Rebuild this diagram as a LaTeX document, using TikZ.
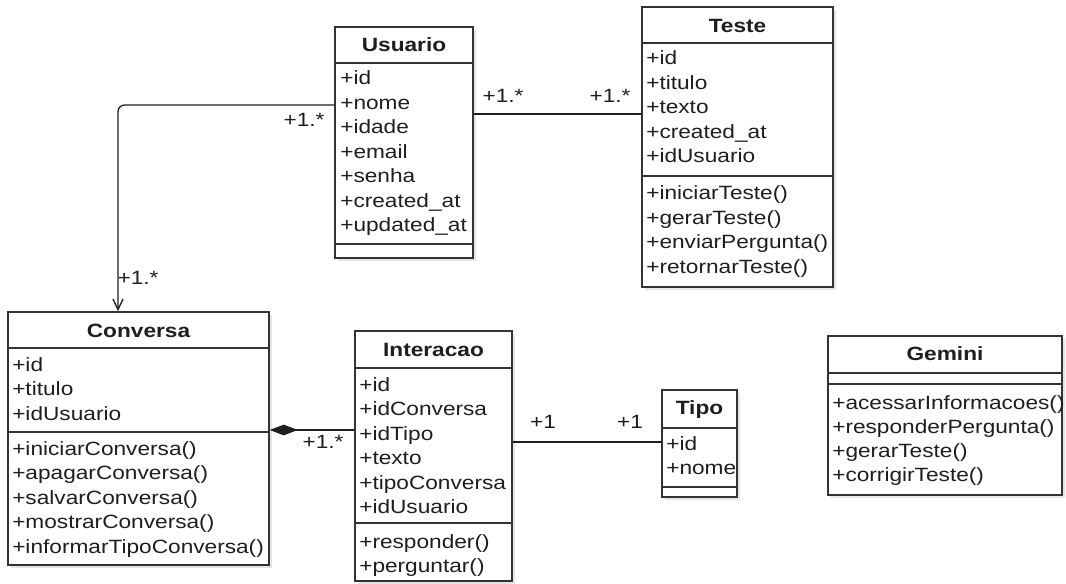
\documentclass[tikz,border=0pt]{standalone}
\usepackage{fontspec}
\setmainfont{Liberation Sans}[FakeStretch=1.18]
\usetikzlibrary{arrows.meta,fit,shadows}

\definecolor{ink}{HTML}{1E1E1E}
\definecolor{frame}{HTML}{333333}

\tikzset{
  classbox/.style={draw=frame, line width=1.1pt, fill=white, inner sep=0pt,
    drop shadow={shadow xshift=2.5pt, shadow yshift=-2.5pt, opacity=0.10, fill=black}},
  sepline/.style={draw=frame, line width=1pt},
  classtitle/.style={font=\fontsize{14.4}{17}\selectfont\bfseries, text=ink, inner sep=0pt},
  member/.style={font=\fontsize{14.4}{17}\selectfont, text=ink, anchor=west, inner sep=0pt,
    text height=10.5pt, text depth=3pt},
  mult/.style={font=\fontsize{14.4}{17}\selectfont, text=ink, inner sep=0pt,
    text height=10.5pt, text depth=3pt},
  assoc/.style={draw=ink, line width=1pt},
}

\begin{document}
\begin{tikzpicture}[x=0.75pt, y=-0.75pt]
\useasboundingbox (0,0) rectangle (1066,584);

% ---------- Usuario ----------
\node[classbox, fit={(335,27) (473,258)}] (usuario) {};
\node[classtitle] (usuario-t) at (404,45) {Usuario};
\draw[sepline] (usuario.west |- 0,63) -- (usuario.east |- 0,63);
\draw[sepline] (usuario.west |- 0,244) -- (usuario.east |- 0,244);
\foreach \m [count=\i from 0] in {+id,+nome,+idade,+email,+senha,+created\_at,+updated\_at}
  \node[member] (usuario-a\i) at (340,80+24.5*\i) {\m};

% ---------- Teste ----------
\node[classbox, fit={(642,7) (833,287)}] (teste) {};
\node[classtitle] (teste-t) at (737.5,26) {Teste};
\draw[sepline] (teste.west |- 0,43) -- (teste.east |- 0,43);
\draw[sepline] (teste.west |- 0,176) -- (teste.east |- 0,176);
\foreach \m [count=\i from 0] in {+id,+titulo,+texto,+created\_at,+idUsuario}
  \node[member] (teste-a\i) at (646,60+24.5*\i) {\m};
\foreach \m [count=\i from 0] in {+iniciarTeste(),+gerarTeste(),+enviarPergunta(),+retornarTeste()}
  \node[member] (teste-o\i) at (646,195+24.5*\i) {\m};

% ---------- Conversa ----------
\node[classbox, fit={(8,312) (269,565)}] (conversa) {};
\node[classtitle] (conversa-t) at (138.5,331) {Conversa};
\draw[sepline] (conversa.west |- 0,348) -- (conversa.east |- 0,348);
\draw[sepline] (conversa.west |- 0,432) -- (conversa.east |- 0,432);
\foreach \m [count=\i from 0] in {+id,+titulo,+idUsuario}
  \node[member] (conversa-a\i) at (12,366+24.5*\i) {\m};
\foreach \m [count=\i from 0] in {+iniciarConversa(),+apagarConversa(),+salvarConversa(),+mostrarConversa(),+informarTipoConversa()}
  \node[member] (conversa-o\i) at (12,450+24.5*\i) {\m};

% ---------- Interacao ----------
\node[classbox, fit={(355,331) (512,581)}] (interacao) {};
\node[classtitle] (interacao-t) at (433.5,350) {Interacao};
\draw[sepline] (interacao.west |- 0,368) -- (interacao.east |- 0,368);
\draw[sepline] (interacao.west |- 0,523) -- (interacao.east |- 0,523);
\foreach \m [count=\i from 0] in {+id,+idConversa,+idTipo,+texto,+tipoConversa,+idUsuario}
  \node[member] (interacao-a\i) at (359,386+24.5*\i) {\m};
\foreach \m [count=\i from 0] in {+responder(),+perguntar()}
  \node[member] (interacao-o\i) at (359,543+24.5*\i) {\m};

% ---------- Tipo ----------
\node[classbox, fit={(662,390) (737,497)}] (tipo) {};
\node[classtitle] (tipo-t) at (699.5,410) {Tipo};
\draw[sepline] (tipo.west |- 0,428) -- (tipo.east |- 0,428);
\draw[sepline] (tipo.west |- 0,487) -- (tipo.east |- 0,487);
\foreach \m [count=\i from 0] in {+id,+nome}
  \node[member] (tipo-a\i) at (666,445+24.5*\i) {\m};

% ---------- Gemini ----------
\node[classbox, fit={(828,336) (1062,495)}] (gemini) {};
\node[classtitle] (gemini-t) at (945,354) {Gemini};
\draw[sepline] (gemini.west |- 0,373) -- (gemini.east |- 0,373);
\draw[sepline] (gemini.west |- 0,384) -- (gemini.east |- 0,384);
\foreach \m [count=\i from 0] in {+acessarInformacoes(),+responderPergunta(),+gerarTeste(),+corrigirTeste()}
  \node[member] (gemini-o\i) at (832,404+24*\i) {\m};

% ---------- associations ----------
% Usuario -- Teste
\draw[assoc] (usuario.east |- 0,114) -- (teste.west |- 0,114);
\node[mult] (m-ut1) at (503,98) {+1.*};
\node[mult] (m-ut2) at (610,98) {+1.*};

% Usuario -> Conversa (navigable)
\coordinate (bend-uc) at (118,105);
\draw[assoc, rounded corners=5pt, -{Straight Barb[length=8pt,width=7.5pt]}]
  (usuario.west |- bend-uc) -- (bend-uc) -- (conversa.north -| bend-uc);
\node[mult] (m-uc1) at (304,122) {+1.*};
\node[mult] (m-uc2) at (138,280) {+1.*};

% Conversa <>-- Interacao (composition)
\draw[assoc, {Diamond[length=21pt,width=8pt]}-]
  (conversa.east |- 0,430) -- (interacao.west |- 0,430);
\node[mult] (m-ci) at (323,443) {+1.*};

% Interacao -- Tipo
\draw[assoc] (interacao.east |- 0,442) -- (tipo.west |- 0,442);
\node[mult] (m-it1) at (543,423) {+1};
\node[mult] (m-it2) at (630,423) {+1};
\end{tikzpicture}
\end{document}
